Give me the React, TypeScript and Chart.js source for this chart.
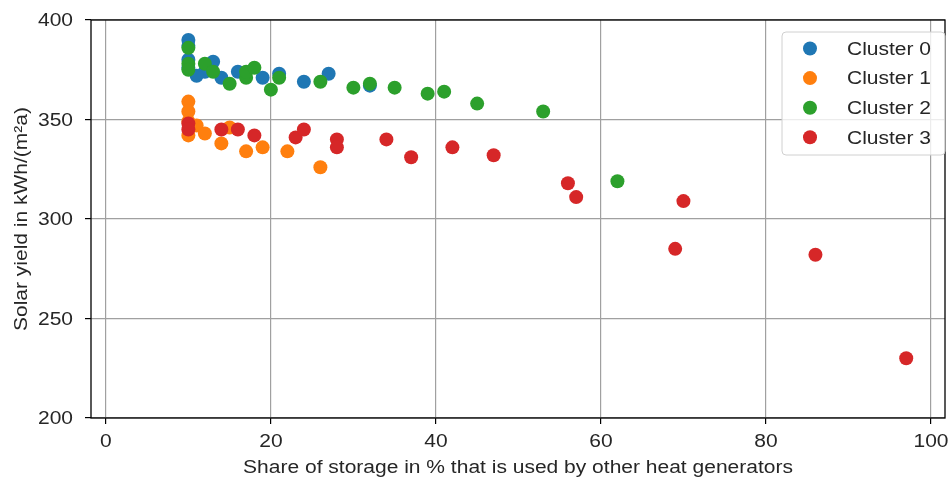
import React, { useEffect, useRef } from "react";
import { Chart, registerables } from "chart.js";

Chart.register(...registerables);

const seriesNames = ["Cluster 0", "Cluster 1", "Cluster 2", "Cluster 3"];
const seriesColors = ["#1f77b4", "#ff7f0e", "#2ca02c", "#d62728"];

const cluster0X = [10, 10, 10, 10, 12, 13, 11, 14, 16, 19, 21, 24, 27, 32];
const cluster0Y = [390, 387, 380, 376, 374, 379, 372, 371, 374, 371, 373, 369, 373, 367];

const cluster1X = [10, 10, 10, 10, 11, 12, 14, 15, 17, 19, 22, 26];
const cluster1Y = [359, 354, 349, 342, 347, 343, 338, 346, 334, 336, 334, 326];

const cluster2X = [10, 10, 10, 12, 13, 15, 17, 17, 18, 20, 21, 26, 30, 32, 35, 39, 41, 45, 53, 62];
const cluster2Y = [386, 378, 375, 378, 374, 368, 371, 374, 376, 365, 371, 369, 366, 368, 366, 363, 364, 358, 354, 319];

const cluster3X = [10, 10, 14, 16, 18, 23, 24, 28, 28, 34, 37, 42, 47, 56, 57, 69, 70, 86, 97];
const cluster3Y = [348, 345, 345, 345, 342, 341, 345, 340, 336, 340, 331, 336, 332, 318, 311, 285, 309, 282, 230];

const xTicks = [0, 20, 40, 60, 80, 100];
const yTicks = [200, 250, 300, 350, 400];

const xTitle = "Share of storage in % that is used by other heat generators";
const yTitle = "Solar yield in kWh/(m²a)";

const FONT = "'Liberation Sans', Arial, sans-serif";
const FONT_SIZE = 17.5;
const STRETCH = 1.2;
const TEXT_COLOR = "#262626";

const toPoints = (xs: number[], ys: number[]) => xs.map((x, i) => ({ x, y: ys[i] }));

function drawText(ctx: CanvasRenderingContext2D, text: string, x: number, y: number, align: CanvasTextAlign, rotate = 0) {
  ctx.save();
  ctx.translate(x, y);
  if (rotate) ctx.rotate(rotate);
  ctx.scale(STRETCH, 1);
  ctx.font = `${FONT_SIZE}px ${FONT}`;
  ctx.fillStyle = TEXT_COLOR;
  ctx.textAlign = align;
  ctx.textBaseline = "alphabetic";
  ctx.fillText(text, 0, 0);
  ctx.restore();
}

const textPlugin = {
  id: "textFrameLegend",
  afterDraw(chart: any) {
    const { ctx, chartArea, scales } = chart;
    ctx.save();
    ctx.strokeStyle = "#000";
    ctx.lineWidth = 1.3;
    ctx.strokeRect(chartArea.left, chartArea.top, chartArea.right - chartArea.left, chartArea.bottom - chartArea.top);

    // tick labels
    xTicks.forEach((v) => {
      drawText(ctx, String(v), scales.x.getPixelForValue(v), chartArea.bottom + 29, "center");
    });
    yTicks.forEach((v) => {
      drawText(ctx, String(v), 73, scales.y.getPixelForValue(v) + 6.3, "right");
    });
    // axis titles
    drawText(ctx, xTitle, (chartArea.left + chartArea.right) / 2, 473, "center");
    drawText(ctx, yTitle, 26.5, (chartArea.top + chartArea.bottom) / 2, "center", -Math.PI / 2);

    // legend
    const bx = 782, by = 32, bw = 163, bh = 123;
    ctx.fillStyle = "rgba(255,255,255,0.8)";
    ctx.strokeStyle = "#d0d0d0";
    ctx.lineWidth = 1;
    ctx.beginPath();
    const r = 4;
    ctx.moveTo(bx + r, by);
    ctx.lineTo(bx + bw - r, by);
    ctx.quadraticCurveTo(bx + bw, by, bx + bw, by + r);
    ctx.lineTo(bx + bw, by + bh - r);
    ctx.quadraticCurveTo(bx + bw, by + bh, bx + bw - r, by + bh);
    ctx.lineTo(bx + r, by + bh);
    ctx.quadraticCurveTo(bx, by + bh, bx, by + bh - r);
    ctx.lineTo(bx, by + r);
    ctx.quadraticCurveTo(bx, by, bx + r, by);
    ctx.closePath();
    ctx.fill();
    ctx.stroke();

    seriesNames.forEach((name, i) => {
      const cy = 48.5 + i * 29.6;
      ctx.fillStyle = seriesColors[i];
      ctx.beginPath();
      ctx.arc(810, cy, 7, 0, Math.PI * 2);
      ctx.fill();
      drawText(ctx, name, 847, cy + 6.3, "left");
    });
    ctx.restore();
  },
};

export default function App() {
  const ref = useRef<HTMLCanvasElement>(null);
  useEffect(() => {
    if (!ref.current) return;
    const xs = [cluster0X, cluster1X, cluster2X, cluster3X];
    const ys = [cluster0Y, cluster1Y, cluster2Y, cluster3Y];
    const chart = new Chart(ref.current, {
      type: "scatter",
      data: {
        datasets: seriesNames.map((name, i) => ({
          label: name,
          data: toPoints(xs[i], ys[i]),
          backgroundColor: seriesColors[i],
          borderColor: seriesColors[i],
          borderWidth: 0,
          pointRadius: 7,
          pointHoverRadius: 7,
          order: 4 - i,
        })),
      },
      options: {
        animation: false,
        responsive: false,
        maintainAspectRatio: false,
        layout: { padding: { top: 20, right: 4, left: 0, bottom: 0 } },
        plugins: { legend: { display: false }, tooltip: { enabled: false } },
        scales: {
          x: {
            type: "linear",
            min: -1.8,
            max: 101.7,
            afterBuildTicks: (s: any) => { s.ticks = xTicks.map((v) => ({ value: v })); },
            afterFit: (s: any) => { s.height = 59; },
            ticks: { display: false },
            grid: { color: "#a0a0a0", lineWidth: 1.2, tickColor: "#000", tickLength: 6, drawTicks: true },
            border: { display: false },
            title: { display: false },
          },
          y: {
            type: "linear",
            min: 200,
            max: 400,
            afterBuildTicks: (s: any) => { s.ticks = yTicks.map((v) => ({ value: v })); },
            afterFit: (s: any) => { s.width = 91; },
            ticks: { display: false },
            grid: { color: "#a0a0a0", lineWidth: 1.2, tickColor: "#000", tickLength: 6, drawTicks: true },
            border: { display: false },
            title: { display: false },
          },
        },
      },
      plugins: [textPlugin],
    } as any);
    return () => chart.destroy();
  }, []);
  return (
    <div style={{ position: "fixed", left: 0, top: 0, width: 952, height: 477, background: "#fff" }}>
      <canvas ref={ref} width={952} height={477} style={{ width: 952, height: 477 }} />
    </div>
  );
}
